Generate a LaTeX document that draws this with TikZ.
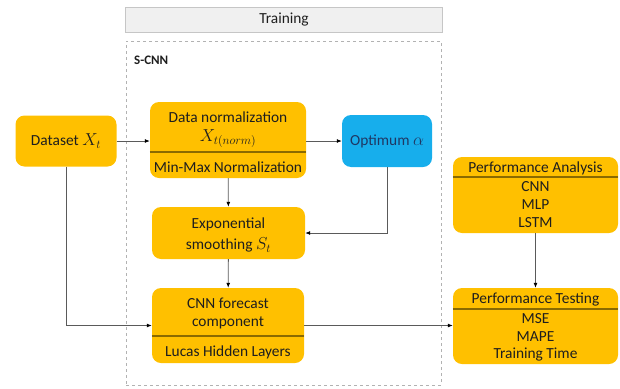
\documentclass[tikz,border=0pt]{standalone}
\usepackage{fontspec}
\setmainfont{Carlito}
\usepackage{xcolor}
\usepackage{tikz}
\usetikzlibrary{arrows.meta, positioning}

\definecolor{boxgold}{HTML}{FFC000}
\definecolor{boxblue}{HTML}{17AEEC}
\definecolor{navytext}{HTML}{1F3864}
\definecolor{divbrown}{HTML}{8A6A00}
\definecolor{linegray}{HTML}{5A5A5A}
\definecolor{textdark}{HTML}{1E1E1E}
\newcommand{\bigmath}[1]{{\fontsize{17.5}{19}\selectfont$#1$}}

\begin{document}
\begin{tikzpicture}[x=1pt, y=-1pt,
  box/.style={fill=boxgold, rounded corners=9pt, inner sep=0pt},
  bluebox/.style={fill=boxblue, rounded corners=9pt, inner sep=0pt},
  lbl/.style={text=textdark, font=\fontsize{15.4}{17}\selectfont, inner sep=0pt},
  divider/.style={draw=divbrown, line width=1.1pt},
  conn/.style={draw=linegray, line width=0.8pt, -{Latex[length=5pt, width=4pt, color=black]}}]
\useasboundingbox (0,0) rectangle (620,388);

% Training frame
\node[fill=gray!12, draw=gray!45, minimum width=317pt, minimum height=25pt,
  inner sep=0pt, lbl] (train) at (284,19.5) {Training};
\node[draw=gray!60, dashed, minimum width=315pt, minimum height=344pt,
  inner sep=0pt] (frame) at (283.5,213) {};
\node[lbl, anchor=west, font=\fontsize{13}{15}\selectfont\bfseries] (scnn) at (134,60) {S-CNN};

% Boxes
\node[box, minimum width=101pt, minimum height=51pt] (dataset) at (66,141) {};
\node[box, minimum width=156pt, minimum height=76pt] (norm) at (228,140) {};
\node[bluebox, minimum width=90pt, minimum height=52pt] (opt) at (387,141) {};
\node[box, minimum width=153pt, minimum height=52pt] (smooth) at (228.5,233) {};
\node[box, minimum width=152pt, minimum height=75pt] (cnn) at (228,325.5) {};
\node[box, minimum width=165pt, minimum height=76pt] (perfan) at (535.5,195) {};
\node[box, minimum width=165pt, minimum height=76pt] (perftest) at (535.5,326) {};

% Dividers
\draw[divider] (norm.west |- 0,152) -- (norm.east |- 0,152);
\draw[divider] (cnn.west |- 0,336) -- (cnn.east |- 0,336);
\draw[divider] (perfan.west |- 0,177) -- (perfan.east |- 0,177);
\draw[divider] (perftest.west |- 0,309) -- (perftest.east |- 0,309);

% Texts
\node[lbl] (datasettxt) at (66,141) {Dataset \bigmath{X_t}};
\node[lbl] (normtitle) at (228,117) {Data normalization};
\node[lbl] (normmath) at (228,139) {\bigmath{X_{t(norm)}}};
\node[lbl] (normsub) at (228,167) {Min-Max Normalization};
\node[lbl, text=navytext] (opttxt) at (387,141) {Optimum \bigmath{\alpha}};
\node[lbl] (smooth1) at (228.5,224) {Exponential};
\node[lbl] (smooth2) at (228.5,245) {smoothing \bigmath{S_t}};
\node[lbl] (cnn1) at (228,303) {CNN forecast};
\node[lbl] (cnn2) at (228,323) {component};
\node[lbl] (cnnsub) at (228,352) {Lucas Hidden Layers};
\node[lbl] (perfantitle) at (535.5,168) {Performance Analysis};
\node[lbl] (perfan1) at (535.5,187) {CNN};
\node[lbl] (perfan2) at (535.5,205) {MLP};
\node[lbl] (perfan3) at (535.5,223) {LSTM};
\node[lbl] (perftesttitle) at (535.5,299) {Performance Testing};
\node[lbl] (perftest1) at (535.5,319) {MSE};
\node[lbl] (perftest2) at (535.5,337) {MAPE};
\node[lbl] (perftest3) at (535.5,355) {Training Time};

% Connectors
\draw[conn] (dataset.east) -- (dataset.east -| norm.west);
\draw[conn] (norm.east |- opt.west) -- (opt.west);
\draw[conn] (norm) -- (smooth);
\draw[conn] (opt.south) |- (smooth.east);
\draw[conn] (smooth) -- (cnn);
\draw[conn] (dataset.south) |- (cnn.west);
\draw[conn] (cnn.east) -- (cnn.east -| perftest.west);
\draw[conn] (perfan) -- (perftest);
\end{tikzpicture}
\end{document}
